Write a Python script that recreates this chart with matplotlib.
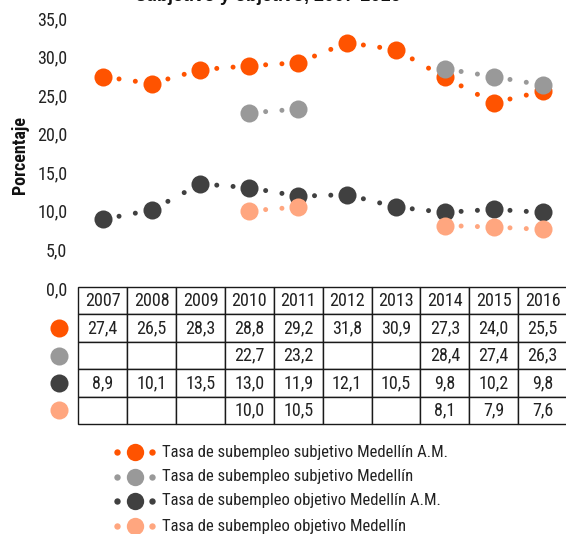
import numpy as np
import matplotlib
matplotlib.use("Agg")
import matplotlib.pyplot as plt
from matplotlib.lines import Line2D

plt.rcParams["font.family"] = ["Roboto Condensed", "DejaVu Sans"]
plt.rcParams["lines.scale_dashes"] = False

nan = np.nan
years = ["2007", "2008", "2009", "2010", "2011", "2012", "2013", "2014", "2015", "2016"]
subj_am = [27.4, 26.5, 28.3, 28.8, 29.2, 31.8, 30.9, 27.3, 24.0, 25.5]
subj_med = [nan, nan, nan, 22.7, 23.2, nan, nan, 28.4, 27.4, 26.3]
obj_am = [8.9, 10.1, 13.5, 13.0, 11.9, 12.1, 10.5, 9.8, 10.2, 9.8]
obj_med = [nan, nan, nan, 10.0, 10.5, nan, nan, 8.1, 7.9, 7.6]

labels = [
    "Tasa de subempleo subjetivo Medellín A.M.",
    "Tasa de subempleo subjetivo Medellín",
    "Tasa de subempleo objetivo Medellín A.M.",
    "Tasa de subempleo objetivo Medellín",
]
series = [subj_am, subj_med, obj_am, obj_med]
colors = ["#FF5300", "#999999", "#404040", "#FFA67F"]

W, H, DPI = 566, 534, 100
fig = plt.figure(figsize=(W / DPI, H / DPI), dpi=DPI)


def fx(px):
    return px / W


def fy(py):
    return 1 - py / H


ax_left, ax_right, ax_top, ax_bottom = 78.3, 567.0, 18.0, 288.0
ax = fig.add_axes([fx(ax_left), fy(ax_bottom), (ax_right - ax_left) / W,
                   (ax_bottom - ax_top) / H])
ax.set_xlim(-0.5, len(years) - 0.5)
ax.set_ylim(0, 35)
for s in ax.spines.values():
    s.set_visible(False)
ax.set_xticks([])
yt = np.arange(0, 36, 5)
ax.set_yticks(yt)
ax.set_yticklabels([f"{v:.1f}".replace(".", ",") for v in yt], fontsize=13,
                   color="#222222")
ax.tick_params(axis="y", length=0, pad=8)

BIG, SMALL = 13.0, 3.6
x = np.arange(len(years))
for vals, col in zip(series, colors):
    v = np.array(vals, dtype=float)
    # dotted connector: two round dots evenly spaced between neighbouring years
    for i in range(len(v) - 1):
        if np.isnan(v[i]) or np.isnan(v[i + 1]):
            continue
        p0 = ax.transData.transform((x[i], v[i]))
        p1 = ax.transData.transform((x[i + 1], v[i + 1]))
        seg_pt = np.hypot(*(p1 - p0)) * 72 / DPI
        ax.plot([x[i], x[i + 1]], [v[i], v[i + 1]], color=col, lw=SMALL,
                dashes=(0.01, seg_pt / 3 - 0.01), dash_capstyle="round",
                clip_on=False, zorder=2)
    ax.plot(x, v, linestyle="none", marker="o", ms=BIG, color=col,
            markeredgewidth=0, clip_on=False, zorder=3)


# data table below the plot
def fmt(val):
    return "" if np.isnan(val) else f"{val:.1f}".replace(".", ",")


cell_text = [years] + [[fmt(float(val)) for val in s] for s in series]
tab_top, tab_bottom = 287.0, 424.0
unit = (ax_bottom - ax_top)
tbl = ax.table(cellText=cell_text, cellLoc="center",
               bbox=[0, -(tab_bottom - ax_bottom) / unit, 1,
                     (tab_bottom - tab_top) / unit])
tbl.auto_set_font_size(False)
tbl.set_fontsize(13)
for cell in tbl.get_celld().values():
    cell.set_edgecolor("#1a1a1a")
    cell.set_linewidth(1.0)
    cell.get_text().set_color("#222222")

row_h = (tab_bottom - tab_top) / 5
for r, col in enumerate(colors):
    yc = tab_top + row_h * (r + 1.5)
    fig.add_artist(Line2D([fx(59)], [fy(yc)], transform=fig.transFigure,
                          linestyle="none", marker="o", ms=BIG, color=col,
                          markeredgewidth=0))

# legend
leg_rows = [452, 477, 501, 526]
for yrow, col, lab in zip(leg_rows, colors, labels):
    fig.add_artist(Line2D([fx(117), fx(152)], [fy(yrow)] * 2,
                          transform=fig.transFigure, linestyle="none",
                          marker="o", ms=SMALL + 1, color=col,
                          markeredgewidth=0))
    fig.add_artist(Line2D([fx(135)], [fy(yrow)], transform=fig.transFigure,
                          linestyle="none", marker="o", ms=BIG - 0.5,
                          color=col, markeredgewidth=0))
    fig.text(fx(162), fy(yrow), lab, fontsize=12, va="center", ha="left",
             color="#222222")

fig.text(fx(20), fy(155), "Porcentaje", rotation=90, fontsize=13,
         fontweight="bold", va="center", ha="center", color="#111111")

fig.text(fx(268), fy(1), "subjetivo y objetivo, 2007-2016",
         fontsize=13, fontweight="bold", ha="center", va="baseline",
         family=["Liberation Sans", "DejaVu Sans"], color="#111111")

fig.savefig("out.png", dpi=DPI)
